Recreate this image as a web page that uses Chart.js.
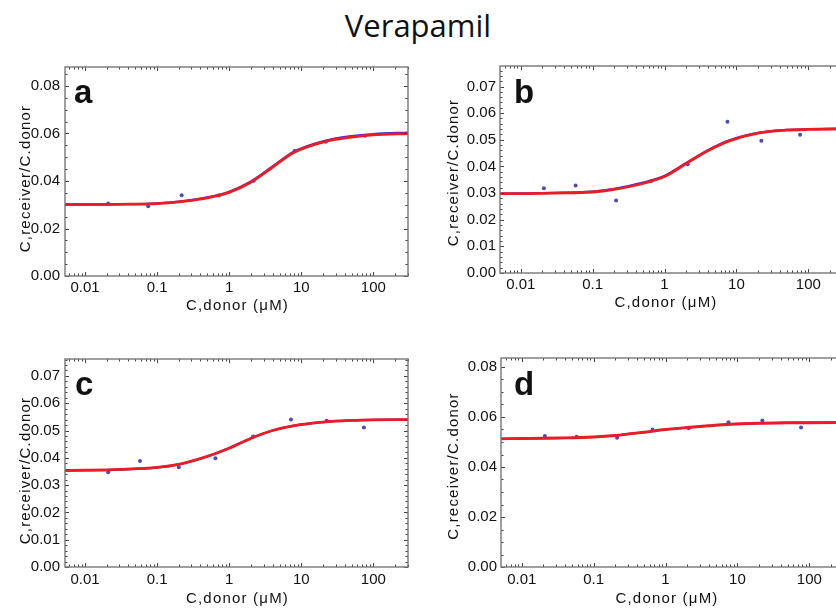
<!DOCTYPE html>
<html><head><meta charset="utf-8">
<script src="https://cdn.jsdelivr.net/npm/chart.js@4.4.1/dist/chart.umd.min.js"></script>
<style>
html,body{margin:0;padding:0;background:#fff;overflow:hidden;width:836px;height:608px;}
#wrap{position:relative;width:836px;height:608px;overflow:hidden;}
.panel{position:absolute;}
.lbl{position:absolute;font:bold 33px 'Liberation Sans',Arial,sans-serif;line-height:1;color:#111;}
#title{position:absolute;left:0;top:10px;width:836px;text-align:center;font:31px 'Open Sans',sans-serif;line-height:1;color:#111;}
</style></head><body>
<div id="wrap">
  <div id="title">Verapamil</div>
  <div class="panel" id="pa" style="left:0px;top:53px;width:413px;height:265px;"><canvas id="ca"></canvas></div>
  <div class="panel" id="pb" style="left:435px;top:53px;width:414px;height:262px;"><canvas id="cb"></canvas></div>
  <div class="panel" id="pc" style="left:0px;top:345px;width:413px;height:264px;"><canvas id="cc"></canvas></div>
  <div class="panel" id="pd" style="left:436px;top:345px;width:414px;height:264px;"><canvas id="cd"></canvas></div>
  <div class="lbl" style="left:74px;top:75px;">a</div>
  <div class="lbl" style="left:514px;top:75px;">b</div>
  <div class="lbl" style="left:75px;top:367px;">c</div>
  <div class="lbl" style="left:514px;top:367px;">d</div>
</div>
<script>
// ---- data ----
const xTickValues = [0.01, 0.1, 1, 10, 100];
const xTickLabels = ['0.01', '0.1', '1', '10', '100'];
const curveX = [0.005, 0.01, 0.03, 0.1, 0.2, 0.5, 1, 2, 4, 8, 20, 50, 100, 320];

const yTicksA = [0, 0.02, 0.04, 0.06, 0.08];
const yLabelsA = ['0.00', '0.02', '0.04', '0.06', '0.08'];
const yTicksB = [0, 0.01, 0.02, 0.03, 0.04, 0.05, 0.06, 0.07];
const yLabelsB = ['0.00', '0.01', '0.02', '0.03', '0.04', '0.05', '0.06', '0.07'];

const pointXA = [0.021, 0.0753, 0.219, 0.72, 2.2, 8.1, 22, 77];
const pointYA = [0.0305, 0.0294, 0.0340, 0.0339, 0.0401, 0.0526, 0.0565, 0.0591];
const fitRedA = [0.0301, 0.0301, 0.0302, 0.0305, 0.0312, 0.0329, 0.0352, 0.0395, 0.0458, 0.0521, 0.0564, 0.0585, 0.0594, 0.0600];
const fitBlueA = [0.0299, 0.0300, 0.0302, 0.0306, 0.0313, 0.0331, 0.0355, 0.0398, 0.0461, 0.0524, 0.0567, 0.0589, 0.0598, 0.0604];

const pointXB = [0.021, 0.058, 0.212, 0.66, 2.1, 7.5, 22.2, 76.6];
const pointYB = [0.0318, 0.0328, 0.0272, 0.0346, 0.0408, 0.0568, 0.0496, 0.0519];
const fitRedB = [0.0298, 0.0298, 0.0300, 0.0304, 0.0314, 0.0336, 0.0362, 0.0411, 0.0459, 0.0496, 0.0525, 0.0536, 0.0539, 0.0541];
const fitBlueB = [0.0298, 0.0299, 0.0301, 0.0306, 0.0316, 0.0339, 0.0365, 0.0413, 0.0461, 0.0498, 0.0526, 0.0537, 0.0540, 0.0542];

const pointXC = [0.021, 0.058, 0.20, 0.645, 2.15, 7.2, 22.5, 74];
const pointYC = [0.0347, 0.0388, 0.0365, 0.0398, 0.0478, 0.0540, 0.0536, 0.0511];
const fitRedC = [0.0354, 0.0355, 0.0358, 0.0365, 0.0376, 0.0405, 0.0435, 0.0471, 0.0500, 0.0518, 0.0531, 0.0537, 0.0539, 0.0540];
const fitBlueC = [0.0353, 0.0354, 0.0357, 0.0364, 0.0376, 0.0406, 0.0436, 0.0472, 0.0500, 0.0518, 0.0531, 0.0537, 0.0539, 0.0540];

const pointXD = [0.021, 0.058, 0.212, 0.66, 2.1, 7.5, 22.2, 76.6];
const pointYD = [0.0524, 0.0521, 0.0517, 0.0550, 0.0555, 0.0579, 0.0586, 0.0558];
const fitRedD = [0.0513, 0.0514, 0.0516, 0.0520, 0.0526, 0.0539, 0.0550, 0.0558, 0.0565, 0.0571, 0.0575, 0.0577, 0.0577, 0.0578];
const fitBlueD = [0.0512, 0.0513, 0.0515, 0.0520, 0.0526, 0.0539, 0.0550, 0.0558, 0.0565, 0.0571, 0.0575, 0.0577, 0.0578, 0.0579];

const xTitle = 'C,donor (μM)';
const yTitle = 'C,receiver/C.donor';

// ---- plugins ----
const framePlugin = {
  id: 'frame',
  afterDatasetsDraw(chart, args, opts) {
    const {ctx, chartArea} = chart;
    const {left, right, top, bottom} = chartArea;
    const x = chart.scales.x, y = chart.scales.y;
    ctx.save();
    ctx.strokeStyle = '#444';
    ctx.lineWidth = 1;
    const seg = (x1, y1, x2, y2) => { ctx.beginPath(); ctx.moveTo(x1, y1); ctx.lineTo(x2, y2); ctx.stroke(); };
    for (let e = -3; e <= 3; e++) {
      for (let m = 1; m <= 9; m++) {
        const v = m * Math.pow(10, e);
        if (v < x.min || v > x.max) continue;
        const px = Math.round(x.getPixelForValue(v)) + 0.5;
        const len = m === 1 ? 4 : 2.5;
        seg(px, bottom, px, bottom - len);
        seg(px, top, px, top + len);
      }
    }
    const n = Math.round(opts.major / opts.minor);
    for (let i = 0; i * opts.minor <= y.max + 1e-9; i++) {
      const v = i * opts.minor;
      const py = Math.round(y.getPixelForValue(v)) + 0.5;
      const len = (i % n === 0) ? 4 : 2.5;
      seg(left, py, left + len, py);
      seg(right, py, right - len, py);
    }
    ctx.strokeStyle = '#777';
    ctx.lineWidth = 1.4;
    ctx.strokeRect(left, top, right - left, bottom - top);
    ctx.restore();
  }
};

const titlePlugin = {
  id: 'titleStyle',
  beforeDraw(chart, args, opts) {
    ['x', 'y'].forEach(id => {
      const s = chart.scales[id];
      if (!s || s._wrappedTitle) return;
      const orig = Object.getPrototypeOf(s).drawTitle;
      s.drawTitle = function () {
        const c = this.ctx;
        c.save();
        c.letterSpacing = opts.spacing + 'px';
        if (id === 'x') c.translate(opts.xdx, 0); else c.translate(0, opts.ydy);
        orig.call(this);
        c.restore();
      };
      s._wrappedTitle = true;
    });
  }
};

const FONT = "'Liberation Sans', Arial, sans-serif";
const TXT = '#111';

function makeChart(canvasId, p) {
  const pts = p.px.map((v, i) => ({x: v, y: p.py[i]}));
  const red = curveX.map((v, i) => ({x: v, y: p.red[i]}));
  const blue = curveX.map((v, i) => ({x: v, y: p.blue[i]}));
  return new Chart(document.getElementById(canvasId), {
    type: 'scatter',
    data: {
      datasets: [
        {data: red, showLine: true, borderColor: '#ec1c24', borderWidth: 2.8, pointRadius: 0, cubicInterpolationMode: 'monotone', order: 1},
        {data: blue, showLine: true, borderColor: '#3030ee', borderWidth: 2.2, pointRadius: 0, cubicInterpolationMode: 'monotone', order: 2},
        {data: pts, showLine: false, pointRadius: 2, pointBackgroundColor: '#4c4cb4', pointBorderWidth: 0, order: 3}
      ]
    },
    options: {
      responsive: true, maintainAspectRatio: false, animation: false,
      events: [],
      layout: {padding: {top: 10, right: 5, left: 0, bottom: 0}},
      plugins: {
        legend: {display: false}, tooltip: {enabled: false},
        frame: {major: p.major, minor: p.minor},
        titleStyle: {spacing: 1.2, xdx: p.xdx, ydy: p.ydy}
      },
      scales: {
        x: {
          type: 'logarithmic', min: p.xmin, max: p.xmax,
          grid: {display: false, drawTicks: false}, border: {display: false},
          afterBuildTicks: s => { s.ticks = xTickValues.map(v => ({value: v})); },
          afterFit: s => { s.height = 42; },
          ticks: {autoSkip: false, maxRotation: 0, padding: p.xpad, color: TXT, font: {family: FONT, size: 15},
                  callback: (v, i) => xTickLabels[i]},
          title: {display: true, text: xTitle, color: TXT, font: {family: FONT, size: 15}, padding: {top: 0, bottom: p.xtpad}}
        },
        y: {
          min: 0, max: p.ymax,
          grid: {display: false, drawTicks: false}, border: {display: false},
          afterBuildTicks: s => { s.ticks = p.yt.map(v => ({value: v})); },
          afterFit: s => { s.width = 65; },
          ticks: {padding: p.ypad, color: TXT, font: {family: FONT, size: 15}, callback: (v, i) => p.yl[i]},
          title: {display: true, text: yTitle, color: TXT, font: {family: FONT, size: 15}, padding: {top: p.ytpad, bottom: 0}}
        }
      }
    },
    plugins: [framePlugin, titlePlugin]
  });
}

makeChart('ca', {px: pointXA, py: pointYA, red: fitRedA, blue: fitBlueA, yt: yTicksA, yl: yLabelsA, ymax: 0.088,
  xmin: 0.00528, xmax: 303, major: 0.02, minor: 0.005, xpad: 3, xtpad: 3, ypad: 5, ytpad: 16.5, xdx: 1, ydy: 7});
makeChart('cb', {px: pointXB, py: pointYB, red: fitRedB, blue: fitBlueB, yt: yTicksB, yl: yLabelsB, ymax: 0.0777,
  xmin: 0.00515, xmax: 313, major: 0.01, minor: 0.002, xpad: 3, xtpad: 3, ypad: 4, ytpad: 10, xdx: -6, ydy: 3});
makeChart('cc', {px: pointXC, py: pointYC, red: fitRedC, blue: fitBlueC, yt: yTicksB, yl: yLabelsB, ymax: 0.0762,
  xmin: 0.00528, xmax: 303, major: 0.01, minor: 0.002, xpad: 4, xtpad: 1, ypad: 5, ytpad: 16.5, xdx: 1, ydy: 7.5});
makeChart('cd', {px: pointXD, py: pointYD, red: fitRedD, blue: fitBlueD, yt: yTicksA, yl: yLabelsA, ymax: 0.0836,
  xmin: 0.00515, xmax: 313, major: 0.02, minor: 0.005, xpad: 4, xtpad: 1, ypad: 4, ytpad: 9, xdx: -6, ydy: 3.5});
</script>
</body></html>
